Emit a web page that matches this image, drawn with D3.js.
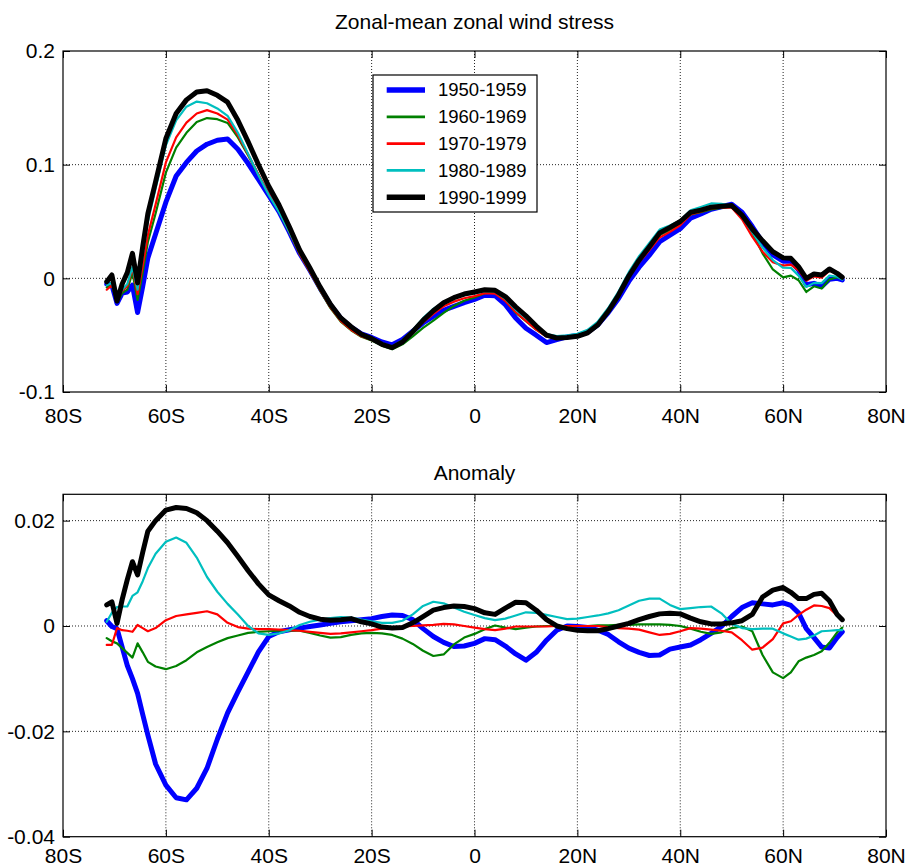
<!DOCTYPE html>
<meta charset="utf-8">
<style>
body { margin: 0; background: #fff; }
text { font-family: "Liberation Sans", Arial, Helvetica, sans-serif; fill: #000; }
</style>
<body>
<script src="https://d3js.org/d3.v7.min.js"></script>
<script>

// latitude of each sample (negative = south)
const lats = [
  -71.5, -70.5, -69.5, -68.5, -67.5, -66.5, -65.5, -64.5, -63.5,
  -62, -60, -58, -56, -54, -52, -50, -48, -46, -44,
  -42, -40, -38, -36, -34, -32, -30, -28, -26, -24,
  -22, -20, -18, -16, -14, -12, -10, -8, -6, -4,
  -2, 0, 2, 4, 6, 8, 10, 12, 14, 16,
  18, 20, 22, 24, 26, 28, 30, 32, 34, 36,
  38, 40, 42, 44, 46, 48, 50, 52, 54, 56,
  58, 60, 61.5, 63, 64.5, 66, 67.5, 69, 70.5, 71.5
];

const decades = ["1950-1959", "1960-1969", "1970-1979", "1980-1989", "1990-1999"];

// zonal-mean zonal wind stress, one array per decade
const stress1950 = [
  -0.005, -0.006, -0.022, -0.013, -0.012, -0.006, -0.030, -0.007, 0.018,
  0.039, 0.067, 0.090, 0.102, 0.112, 0.118, 0.1215, 0.1225, 0.1135, 0.101,
  0.087, 0.073, 0.0586, 0.0409, 0.022, 0.0071, -0.0088, -0.0235, -0.0352, -0.043,
  -0.0488, -0.052, -0.056, -0.0585, -0.0537, -0.0464, -0.0393, -0.0335, -0.0281, -0.0247,
  -0.0213, -0.0186, -0.0149, -0.0153, -0.0232, -0.0348, -0.0439, -0.050, -0.0565, -0.054,
  -0.0515, -0.0503, -0.0473, -0.0408, -0.0301, -0.0177, -0.0027, 0.0098, 0.0204, 0.0322,
  0.038, 0.0437, 0.0529, 0.0566, 0.0608, 0.063, 0.0652, 0.0582, 0.0456, 0.0317,
  0.0206, 0.0151, 0.0151, 0.0075, -0.0057, -0.0044, -0.0072, -0.0008, 0.000, -0.0014
];
const stress1960 = [
  -0.008, -0.006, -0.021, -0.013, -0.010, 0.005, -0.019, 0.005, 0.032,
  0.057, 0.093, 0.115, 0.128, 0.1375, 0.141, 0.140, 0.1367, 0.124, 0.108,
  0.0909, 0.074, 0.0588, 0.0407, 0.0215, 0.0059, -0.0108, -0.0262, -0.0381, -0.0457,
  -0.0514, -0.0547, -0.0592, -0.0623, -0.0581, -0.051, -0.0435, -0.0372, -0.0304, -0.0243,
  -0.0197, -0.0168, -0.0131, -0.0126, -0.0196, -0.0301, -0.0377, -0.0451, -0.0512, -0.0525,
  -0.0515, -0.0502, -0.047, -0.0399, -0.0284, -0.0145, 0.0017, 0.0151, 0.0263, 0.038,
  0.0426, 0.0477, 0.056, 0.0581, 0.0607, 0.0619, 0.063, 0.0546, 0.0402, 0.022,
  0.0078, 0.0008, 0.0024, -0.0017, -0.012, -0.007, -0.009, -0.001, 0.001, -0.0006
];
const stress1970 = [
  -0.010, -0.006, -0.018, -0.011, -0.007, 0.009, -0.014, 0.011, 0.038,
  0.065, 0.102, 0.124, 0.137, 0.145, 0.148, 0.145, 0.1396, 0.126, 0.109,
  0.0914, 0.0744, 0.059, 0.0408, 0.0215, 0.0061, -0.0103, -0.0255, -0.0374, -0.0452,
  -0.051, -0.0542, -0.0583, -0.0609, -0.0558, -0.0476, -0.0387, -0.0313, -0.0246, -0.0205,
  -0.0175, -0.0156, -0.0131, -0.0135, -0.0199, -0.0296, -0.0375, -0.0451, -0.0513, -0.0525,
  -0.0515, -0.0502, -0.047, -0.040, -0.0287, -0.0151, 0.001, 0.0141, 0.0248, 0.036,
  0.0409, 0.0467, 0.0561, 0.0587, 0.0615, 0.0622, 0.0622, 0.052, 0.0367, 0.0234,
  0.0141, 0.0112, 0.0121, 0.0071, -0.0021, 0.0017, 0.0006, 0.0068, 0.0042, 0.0009
];
const stress1980 = [
  -0.006, -0.004, -0.020, -0.010, -0.005, 0.010, -0.010, 0.020, 0.050,
  0.079, 0.117, 0.139, 0.151, 0.1555, 0.154, 0.1495, 0.143, 0.128, 0.1095,
  0.0906, 0.0733, 0.0583, 0.0408, 0.0226, 0.008, -0.0078, -0.0225, -0.0343, -0.0424,
  -0.0488, -0.0525, -0.0572, -0.060, -0.0547, -0.0454, -0.035, -0.0269, -0.0207, -0.0173,
  -0.0148, -0.0132, -0.011, -0.0116, -0.018, -0.0275, -0.0348, -0.0425, -0.0491, -0.0508,
  -0.0502, -0.0488, -0.0453, -0.038, -0.0261, -0.0117, 0.0054, 0.0196, 0.0312, 0.0429,
  0.0464, 0.0509, 0.0599, 0.0628, 0.0659, 0.0655, 0.0638, 0.0543, 0.0406, 0.027,
  0.0161, 0.0093, 0.0092, 0.0024, -0.0076, -0.004, -0.0042, 0.0025, 0.0014, -0.0011
];
const stress1990 = [
  -0.003, 0.003, -0.020, -0.005, 0.005, 0.022, -0.004, 0.028, 0.057,
  0.085, 0.123, 0.145, 0.157, 0.164, 0.165, 0.161, 0.155, 0.139, 0.120,
  0.100, 0.081, 0.0645, 0.0454, 0.025, 0.009, -0.0077, -0.0229, -0.0348, -0.0426,
  -0.0492, -0.053, -0.058, -0.061, -0.056, -0.047, -0.037, -0.0285, -0.0215, -0.017,
  -0.0138, -0.012, -0.010, -0.0105, -0.016, -0.025, -0.033, -0.042, -0.050, -0.0525,
  -0.052, -0.051, -0.0479, -0.0409, -0.029, -0.0147, 0.002, 0.016, 0.0278, 0.040,
  0.0448, 0.050, 0.058, 0.060, 0.0626, 0.0635, 0.064, 0.0557, 0.0434, 0.033,
  0.0234, 0.018, 0.0176, 0.0102, 0.000, 0.0038, 0.003, 0.0082, 0.0044, 0.0009
];

// anomaly from the 1950-1999 mean
const anom1950 = [
  0.0010, -0.0001, -0.0005, -0.0040, -0.0075, -0.0100, -0.0128, -0.0168, -0.0207,
  -0.0262, -0.0302, -0.0326, -0.0330, -0.0308, -0.0270, -0.0215, -0.0165, -0.0125, -0.0087,
  -0.0049, -0.0020, -0.0011, -0.0007, -0.0004, -0.0001, 0.0002, 0.0005, 0.0008, 0.0010,
  0.0012, 0.0014, 0.0018, 0.0021, 0.0020, 0.0012, -0.0005, -0.0020, -0.0031, -0.0039,
  -0.0038, -0.0033, -0.0024, -0.0026, -0.0038, -0.0053, -0.0065, -0.0050, -0.0027, -0.0008,
  0.0000, -0.0001, -0.0003, -0.0008, -0.0016, -0.0030, -0.0042, -0.0050, -0.0056, -0.0055,
  -0.0044, -0.0040, -0.0036, -0.0026, -0.0014, -0.0001, 0.0018, 0.0035, 0.0044, 0.0042,
  0.0040, 0.0044, 0.0039, 0.0025, -0.0005, -0.0022, -0.0040, -0.0042, -0.0022, -0.0011
];
const anom1960 = [
  -0.0023, -0.0029, -0.0033, -0.0042, -0.0051, -0.0060, -0.0033, -0.0050, -0.0068,
  -0.0077, -0.0082, -0.0076, -0.0065, -0.0050, -0.0040, -0.0031, -0.0023, -0.0018, -0.0013,
  -0.0011, -0.0010, -0.0009, -0.0009, -0.0009, -0.0013, -0.0018, -0.0022, -0.0021, -0.0017,
  -0.0014, -0.0013, -0.0014, -0.0017, -0.0024, -0.0034, -0.0047, -0.0057, -0.0054, -0.0035,
  -0.0022, -0.0015, -0.0006, 0.0001, -0.0003, -0.0006, -0.0003, -0.0001, 0.0000, 0.0000,
  0.0000, 0.0000, 0.0000, 0.0001, 0.0001, 0.0002, 0.0002, 0.0003, 0.0003, 0.0003,
  0.0002, 0.0000, -0.0005, -0.0011, -0.0015, -0.0012, -0.0004, -0.0001, -0.0010, -0.0055,
  -0.0088, -0.0099, -0.0088, -0.0067, -0.0060, -0.0055, -0.0048, -0.0032, -0.0012, -0.0003
];
const anom1970 = [
  -0.0036, -0.0036, -0.0004, -0.0008, -0.0009, -0.0011, 0.0002, -0.0004, -0.0010,
  -0.0004, 0.0011, 0.0019, 0.0022, 0.0025, 0.0028, 0.0022, 0.0006, -0.0002, -0.0005,
  -0.0006, -0.0006, -0.0007, -0.0008, -0.0009, -0.0011, -0.0013, -0.0015, -0.0014, -0.0012,
  -0.0010, -0.0008, -0.0005, -0.0003, -0.0001, 0.0000, 0.0001, 0.0002, 0.0004, 0.0003,
  0.0000, -0.0003, -0.0006, -0.0008, -0.0005, -0.0001, -0.0001, -0.0001, -0.0001, 0.0000,
  0.0000, 0.0000, 0.0000, 0.0000, -0.0002, -0.0004, -0.0005, -0.0007, -0.0012, -0.0017,
  -0.0015, -0.0010, -0.0004, -0.0005, -0.0007, -0.0009, -0.0012, -0.0027, -0.0045, -0.0041,
  -0.0025, 0.0005, 0.0009, 0.0021, 0.0031, 0.0039, 0.0038, 0.0034, 0.0020, 0.0012
];
const anom1980 = [
  0.0008, 0.0025, 0.0036, 0.0037, 0.0037, 0.0057, 0.0064, 0.0085, 0.0110,
  0.0137, 0.0160, 0.0168, 0.0158, 0.0130, 0.0093, 0.0065, 0.0042, 0.0022, 0.0000,
  -0.0014, -0.0017, -0.0014, -0.0008, 0.0002, 0.0008, 0.0012, 0.0015, 0.0017, 0.0016,
  0.0012, 0.0009, 0.0006, 0.0006, 0.0010, 0.0022, 0.0038, 0.0046, 0.0043, 0.0035,
  0.0027, 0.0021, 0.0015, 0.0011, 0.0014, 0.0020, 0.0026, 0.0025, 0.0021, 0.0017,
  0.0013, 0.0014, 0.0017, 0.0020, 0.0024, 0.0030, 0.0039, 0.0048, 0.0052, 0.0052,
  0.0040, 0.0032, 0.0034, 0.0036, 0.0037, 0.0024, 0.0004, -0.0004, -0.0006, -0.0005,
  -0.0005, -0.0014, -0.0020, -0.0026, -0.0024, -0.0018, -0.0010, -0.0009, -0.0008, -0.0008
];
const anom1990 = [
  0.0040, 0.0046, 0.0005, 0.0050, 0.0088, 0.0122, 0.0097, 0.0140, 0.0180,
  0.0200, 0.0220, 0.0225, 0.0223, 0.0215, 0.0200, 0.0180, 0.0158, 0.0132, 0.0105,
  0.0080, 0.0059, 0.0048, 0.0038, 0.0026, 0.0018, 0.0013, 0.0011, 0.0012, 0.0014,
  0.0008, 0.0004, -0.0002, -0.0004, -0.0003, 0.0006, 0.0018, 0.0030, 0.0035, 0.0038,
  0.0037, 0.0033, 0.0025, 0.0022, 0.0034, 0.0045, 0.0044, 0.0030, 0.0012, 0.0000,
  -0.0005, -0.0008, -0.0009, -0.0009, -0.0005, 0.0000, 0.0005, 0.0012, 0.0018, 0.0023,
  0.0024, 0.0023, 0.0015, 0.0008, 0.0004, 0.0004, 0.0006, 0.0010, 0.0022, 0.0055,
  0.0068, 0.0073, 0.0064, 0.0052, 0.0052, 0.0060, 0.0062, 0.0048, 0.0022, 0.0012
];

const xTicks = [-80, -60, -40, -20, 0, 20, 40, 60, 80];
const topTicks = [-0.1, 0, 0.1, 0.2];
const bottomTicks = [-0.04, -0.02, 0, 0.02];

const colors = ["#0000ff", "#008000", "#ff0000", "#00bfbf", "#000000"];
const widths = [5, 2.2, 2.2, 2.2, 5];

const W = 908, H = 867;
const svg = d3.select("body").append("svg")
  .attr("width", W)
  .attr("height", H);

const x = d3.scaleLinear().domain([-80, 80]).range([63, 886]);

let latLabel = d => d === 0 ? "0" : (Math.abs(d) + (d < 0 ? "S" : "N"));
// plain hyphen for negatives, like the original
let valLabel = d => String(+d.toFixed(2));

function panel(cfg) {
  const y = d3.scaleLinear().domain(cfg.domain).range([cfg.bottom, cfg.top]);
  const g = svg.append("g");

  // dotted grid
  g.selectAll(".vgrid").data(xTicks.slice(1, -1)).enter().append("line")
    .attr("x1", d => x(d)).attr("x2", d => x(d))
    .attr("y1", cfg.top).attr("y2", cfg.bottom)
    .attr("stroke", "#222").attr("stroke-width", 1)
    .attr("stroke-dasharray", "1,2");
  g.selectAll(".hgrid").data(cfg.ticks.filter(t => y(t) > cfg.top + 1 && y(t) < cfg.bottom - 1))
    .enter().append("line")
    .attr("x1", x.range()[0]).attr("x2", x.range()[1])
    .attr("y1", d => y(d)).attr("y2", d => y(d))
    .attr("stroke", "#222").attr("stroke-width", 1)
    .attr("stroke-dasharray", "1,2");

  // axes with inward ticks
  const axes = [
    [d3.axisLeft(y).tickValues(cfg.ticks).tickFormat(valLabel).tickPadding(8), `translate(${x.range()[0]},0)`],
    [d3.axisRight(y).tickValues(cfg.ticks).tickFormat(""), `translate(${x.range()[1]},0)`],
    [d3.axisBottom(x).tickValues(xTicks).tickFormat(latLabel).tickPadding(cfg.xPad), `translate(0,${cfg.bottom})`],
    [d3.axisTop(x).tickValues(xTicks).tickFormat(""), `translate(0,${cfg.top})`]
  ];
  axes.forEach(a => {
    const ag = g.append("g").attr("transform", a[1])
      .call(a[0].tickSizeInner(-7).tickSizeOuter(0));
    ag.select(".domain").remove();
    ag.selectAll("line").attr("stroke", "#000");
    ag.attr("font-size", 21).attr("font-family", "Liberation Sans, Arial, sans-serif");
    ag.selectAll("text").attr("fill", "#000");
  });

  // frame
  g.append("rect")
    .attr("x", x.range()[0]).attr("y", cfg.top)
    .attr("width", x.range()[1] - x.range()[0]).attr("height", cfg.bottom - cfg.top)
    .attr("fill", "none").attr("stroke", "#000").attr("stroke-width", 1.2);

  // title
  g.append("text")
    .attr("x", (x.range()[0] + x.range()[1]) / 2)
    .attr("y", cfg.titleY)
    .attr("text-anchor", "middle")
    .attr("font-size", 21)
    .text(cfg.title);

  const line = d3.line()
    .x((d, i) => x(lats[i]))
    .y(d => y(d));

  cfg.series.forEach((s, i) => {
    g.append("path")
      .datum(s)
      .attr("d", line)
      .attr("fill", "none")
      .attr("stroke", colors[i])
      .attr("stroke-width", widths[i])
      .attr("stroke-linejoin", "round")
      .attr("stroke-linecap", "round");
  });
  return g;
}

panel({
  top: 51, bottom: 392,
  domain: [-0.1, 0.2],
  ticks: topTicks,
  xPad: 16,
  title: "Zonal-mean zonal wind stress",
  titleY: 28.5,
  series: [stress1950, stress1960, stress1970, stress1980, stress1990]
});

panel({
  top: 494.3, bottom: 836.7,
  domain: [-0.04, 0.025],
  ticks: bottomTicks,
  xPad: 11,
  title: "Anomaly",
  titleY: 480,
  series: [anom1950, anom1960, anom1970, anom1980, anom1990]
});

// legend in the upper panel
const lg = svg.append("g");
lg.append("rect")
  .attr("x", 373).attr("y", 75)
  .attr("width", 164).attr("height", 137)
  .attr("fill", "#fff").attr("stroke", "#000").attr("stroke-width", 1.2);
decades.forEach((d, i) => {
  const yy = 90 + i * 26.8;
  lg.append("line")
    .attr("x1", 386.7).attr("x2", 425)
    .attr("y1", yy).attr("y2", yy)
    .attr("stroke", colors[i])
    .attr("stroke-width", widths[i] + 0.5);
  lg.append("text")
    .attr("x", 438).attr("y", yy)
    .attr("dy", "0.35em")
    .attr("font-size", 18.5)
    .text(d);
});

</script>
</body>
